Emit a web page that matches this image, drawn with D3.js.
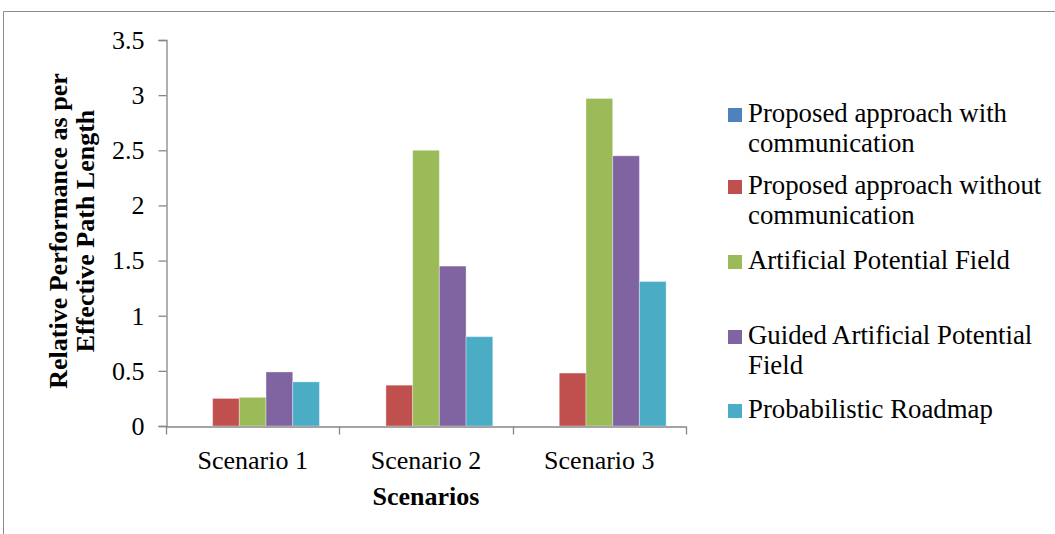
<!DOCTYPE html>
<html>
<head>
<meta charset="utf-8">
<script src="https://cdn.jsdelivr.net/npm/d3@7"></script>
<style>
  html, body { margin: 0; padding: 0; background: #fff; }
  svg { display: block; }
  text { font-family: "Liberation Serif", "Times New Roman", serif; fill: #000; }
</style>
</head>
<body>
<svg id="chart" width="1055" height="534"></svg>
<script>
// Scenario categories and per-method results
const categories = ["Scenario 1", "Scenario 2", "Scenario 3"];
const seriesNames = [
  "Proposed approach with communication",
  "Proposed approach without communication",
  "Artificial Potential Field",
  "Guided Artificial Potential Field",
  "Probabilistic Roadmap"
];
const withComm    = [0, 0, 0];
const withoutComm = [0.25, 0.37, 0.48];
const apf         = [0.26, 2.50, 2.97];
const guidedApf   = [0.49, 1.45, 2.45];
const prm         = [0.40, 0.81, 1.31];
const yTicks = [0, 0.5, 1, 1.5, 2, 2.5, 3, 3.5];
const colors = ["#4F81BD", "#C0504D", "#9BBB59", "#8064A2", "#4BACC6"];

// Legend labels broken into lines as drawn
const legendLines = [
  ["Proposed approach with", "communication"],
  ["Proposed approach without", "communication"],
  ["Artificial Potential Field"],
  ["Guided Artificial Potential", "Field"],
  ["Probabilistic Roadmap"]
];

const seriesValues = [withComm, withoutComm, apf, guidedApf, prm];

const svg = d3.select("#chart");
const axisColor = "#868686";
const serif = "'Liberation Serif', 'Times New Roman', serif";

// Outer frame (top and left edges)
svg.append("path")
  .attr("d", "M3.5,534 L3.5,11.5 L1055,11.5")
  .attr("fill", "none")
  .attr("stroke", "#8a8a8a")
  .attr("stroke-width", 1);

const plot = { left: 166, right: 686, top: 40, bottom: 426 };

const y = d3.scaleLinear().domain([0, 3.5]).range([plot.bottom, plot.top]);
const x0 = d3.scaleBand().domain(categories).range([plot.left, plot.right]).padding(0);
const x1 = d3.scaleBand().domain(d3.range(seriesNames.length))
  .range([0, x0.bandwidth()]).paddingInner(0).paddingOuter(0.745);

// Bars
const bars = svg.append("g");
categories.forEach((cat, ci) => {
  seriesValues.forEach((vals, si) => {
    const v = vals[ci];
    bars.append("rect")
      .attr("x", x0(cat) + x1(si))
      .attr("y", y(v))
      .attr("width", x1.bandwidth())
      .attr("height", y(0) - y(v))
      .attr("fill", colors[si])
      .attr("stroke", v > 0 ? "rgba(255,255,255,0.35)" : "none")
      .attr("stroke-width", 1);
  });
});

// Y axis
const yAxis = svg.append("g").attr("transform", `translate(${plot.left + 0.5},0)`)
  .attr("font-family", serif)
  .call(d3.axisLeft(y).tickValues(yTicks).tickSize(8).tickPadding(14)
    .tickFormat(d => String(d)));
yAxis.select(".domain").attr("stroke", axisColor).attr("stroke-width", 1.3);
yAxis.selectAll(".tick line").attr("stroke", axisColor).attr("stroke-width", 1.3);
yAxis.selectAll(".tick text")
  .style("font-family", serif)
  .style("font-size", "26px")
  .attr("fill", "#000");

// X axis with boundary ticks between categories
const xAxis = svg.append("g").attr("transform", `translate(0,${plot.bottom + 0.5})`)
  .attr("font-family", serif)
  .call(d3.axisBottom(x0).tickSize(0).tickPadding(24));
xAxis.select(".domain").attr("stroke", axisColor).attr("stroke-width", 1.3);
xAxis.selectAll(".tick text")
  .style("font-family", serif)
  .style("font-size", "26px")
  .attr("fill", "#000");
const boundaries = categories.map(c => x0(c)).concat([x0(categories[categories.length - 1]) + x0.bandwidth()]);
xAxis.selectAll("line.bound").data(boundaries).enter().append("line")
  .attr("class", "bound")
  .attr("x1", d => Math.round(d) + 0.5).attr("x2", d => Math.round(d) + 0.5)
  .attr("y1", 0).attr("y2", 8)
  .attr("stroke", axisColor).attr("stroke-width", 1.3);

// Axis titles
svg.append("text")
  .attr("x", (plot.left + plot.right) / 2)
  .attr("y", 505)
  .attr("text-anchor", "middle")
  .style("font-weight", "bold")
  .style("font-size", "26px")
  .text("Scenarios");

const yTitle = svg.append("text")
  .attr("transform", `translate(0,${(plot.top + plot.bottom) / 2 - 2}) rotate(-90)`)
  .attr("text-anchor", "middle")
  .style("font-weight", "bold")
  .style("font-size", "26px");
yTitle.append("tspan").attr("x", 0).attr("y", 67).text("Relative Performance as per");
yTitle.append("tspan").attr("x", 0).attr("y", 94).text("Effective Path Length");

// Legend
const legendRows = [115, 187, 262, 337, 411];
const legend = svg.append("g");
legendLines.forEach((lines, i) => {
  const cy = legendRows[i];
  legend.append("rect")
    .attr("x", 728).attr("y", cy - 7)
    .attr("width", 14).attr("height", 14)
    .attr("fill", colors[i]);
  const t = legend.append("text")
    .style("font-size", "26.8px");
  lines.forEach((ln, li) => {
    t.append("tspan").attr("x", 748).attr("y", cy + 7 + li * 30).text(ln);
  });
});
</script>
</body>
</html>
